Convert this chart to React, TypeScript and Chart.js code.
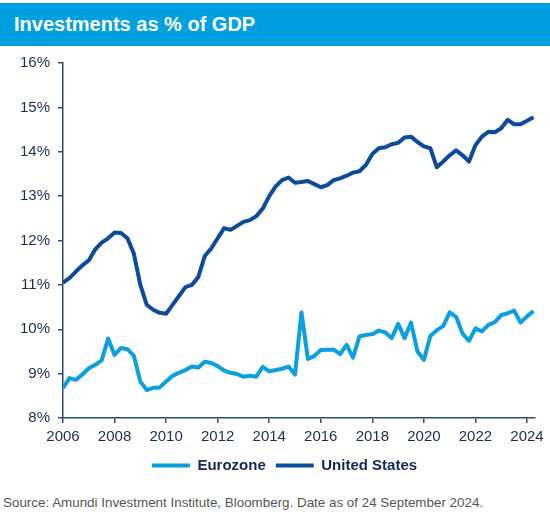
import React, { useEffect, useRef } from "react";
import { Chart, registerables } from "chart.js";

Chart.register(...registerables);

const TITLE = "Investments as % of GDP";
const SOURCE = "Source: Amundi Investment Institute, Bloomberg. Date as of 24 September 2024.";

const START_YEAR = 2006;
const X_TICKS = [2006, 2008, 2010, 2012, 2014, 2016, 2018, 2020, 2022, 2024];
const Y_TICKS = [8, 9, 10, 11, 12, 13, 14, 15, 16];

// quarterly, 2006 Q1 .. 2024 Q2
const US = [
  11.05, 11.15, 11.3, 11.44, 11.55, 11.8, 11.95, 12.05, 12.18, 12.17,
  12.05, 11.7, 11.0, 10.55, 10.44, 10.37, 10.35, 10.55, 10.75, 10.95,
  11.0, 11.18, 11.65, 11.82, 12.05, 12.28, 12.24, 12.33, 12.42, 12.46,
  12.55, 12.72, 13.0, 13.22, 13.36, 13.42, 13.3, 13.32, 13.34, 13.27,
  13.2, 13.25, 13.36, 13.4, 13.46, 13.53, 13.56, 13.7, 13.95, 14.08,
  14.1, 14.17, 14.2, 14.32, 14.34, 14.22, 14.12, 14.08, 13.65, 13.78,
  13.92, 14.03, 13.92, 13.78, 14.15, 14.34, 14.45, 14.44, 14.53, 14.72,
  14.62, 14.62, 14.7, 14.78,
];

const EUROZONE = [
  8.67, 8.9, 8.86, 8.98, 9.12, 9.2, 9.3, 9.79, 9.42, 9.58,
  9.55, 9.4, 8.82, 8.63, 8.68, 8.69, 8.82, 8.95, 9.02, 9.08,
  9.16, 9.14, 9.27, 9.24, 9.17, 9.07, 9.02, 8.99, 8.93, 8.95,
  8.93, 9.15, 9.05, 9.08, 9.11, 9.16, 8.98, 10.38, 9.33, 9.4,
  9.53, 9.54, 9.54, 9.44, 9.65, 9.36, 9.84, 9.87, 9.89, 9.97,
  9.93, 9.8, 10.12, 9.8, 10.15, 9.5, 9.31, 9.85, 9.98, 10.07,
  10.38, 10.28, 9.9, 9.74, 10.02, 9.95, 10.1, 10.16, 10.32, 10.36,
  10.42, 10.15, 10.29, 10.41,
];

const EZ_COLOR = "#0a9fe0";
const US_COLOR = "#0b4a9c";
const AXIS_COLOR = "#2f4b72";
const TEXT_COLOR = "#1a2d52";
const LEGEND_COLOR = "#10285a";
const FONT = "'Liberation Sans', Arial, sans-serif";

function toPoints(values: number[]) {
  return values.map((v, i) => ({ x: START_YEAR + i * 0.25, y: v }));
}

const legendShift = {
  id: "legendShift",
  afterLayout(chart: any) {
    const l = chart.legend;
    if (l) {
      l.left += 17;
      l.right += 17;
    }
  },
};

export default function App() {
  const ref = useRef<HTMLCanvasElement | null>(null);

  useEffect(() => {
    if (!ref.current) return;
    const chart = new Chart(ref.current, {
      type: "line",
      plugins: [legendShift],
      data: {
        datasets: [
          {
            label: "Eurozone",
            data: toPoints(EUROZONE),
            borderColor: EZ_COLOR,
            backgroundColor: EZ_COLOR,
            borderWidth: 4,
            pointRadius: 0,
            tension: 0,
            borderJoinStyle: "round",
          },
          {
            label: "United States",
            data: toPoints(US),
            borderColor: US_COLOR,
            backgroundColor: US_COLOR,
            borderWidth: 4,
            pointRadius: 0,
            tension: 0,
            borderJoinStyle: "round",
          },
        ],
      },
      options: {
        animation: false,
        responsive: false,
        maintainAspectRatio: false,
        layout: { padding: { top: 15.5, right: 15, left: 0, bottom: 0 } },
        plugins: {
          tooltip: { enabled: false },
          legend: {
            position: "bottom",
            labels: {
              boxWidth: 38,
              boxHeight: 4,
              padding: 10,
              color: LEGEND_COLOR,
              font: { family: FONT, size: 15, weight: "bold" },
              generateLabels: (c: any) =>
                c.data.datasets.map((d: any, i: number) => ({
                  text: d.label,
                  fillStyle: d.borderColor,
                  strokeStyle: d.borderColor,
                  lineWidth: 0,
                  hidden: false,
                  datasetIndex: i,
                  fontColor: LEGEND_COLOR,
                })),
            },
          },
        },
        scales: {
          x: {
            type: "linear",
            min: 2006,
            max: 2024.31,
            afterBuildTicks: (s: any) => {
              s.ticks = X_TICKS.map((v) => ({ value: v }));
            },
            afterFit: (s: any) => {
              s.height = s.height - 3;
            },
            ticks: {
              color: TEXT_COLOR,
              font: { family: FONT, size: 15 },
              padding: 5,
              maxRotation: 0,
              autoSkip: false,
              callback: (v: any) => String(v),
            },
            grid: {
              drawOnChartArea: false,
              drawTicks: true,
              tickLength: 5,
              color: AXIS_COLOR,
              lineWidth: 1.5,
            },
            border: { color: AXIS_COLOR, width: 1.5 },
          },
          y: {
            type: "linear",
            min: 8,
            max: 16,
            afterBuildTicks: (s: any) => {
              s.ticks = Y_TICKS.map((v) => ({ value: v }));
            },
            afterFit: (s: any) => {
              s.width = 63;
            },
            ticks: {
              color: TEXT_COLOR,
              font: { family: FONT, size: 15 },
              padding: 8,
              callback: (v: any) => v + "%",
            },
            grid: {
              drawOnChartArea: false,
              drawTicks: true,
              tickLength: 5,
              color: AXIS_COLOR,
              lineWidth: 1.5,
            },
            border: { color: AXIS_COLOR, width: 1.5 },
          },
        },
      },
    });
    return () => chart.destroy();
  }, []);

  return (
    <div style={{ position: "absolute", left: 0, top: 0, width: 550, height: 519, background: "#fff", fontFamily: FONT }}>
      <div
        style={{
          position: "absolute",
          left: 0,
          top: 3,
          width: 550,
          height: 43,
          background: "#009fdf",
          color: "#fff",
          fontWeight: "bold",
          fontSize: 20,
          lineHeight: "43px",
          paddingLeft: 14,
          boxSizing: "border-box",
        }}
      >
        {TITLE}
      </div>
      <canvas ref={ref} width={550} height={437} style={{ position: "absolute", left: 0, top: 46, width: 550, height: 437 }} />
      <div style={{ position: "absolute", left: 3, top: 495, fontSize: 13.4, color: "#555", whiteSpace: "nowrap" }}>{SOURCE}</div>
    </div>
  );
}
